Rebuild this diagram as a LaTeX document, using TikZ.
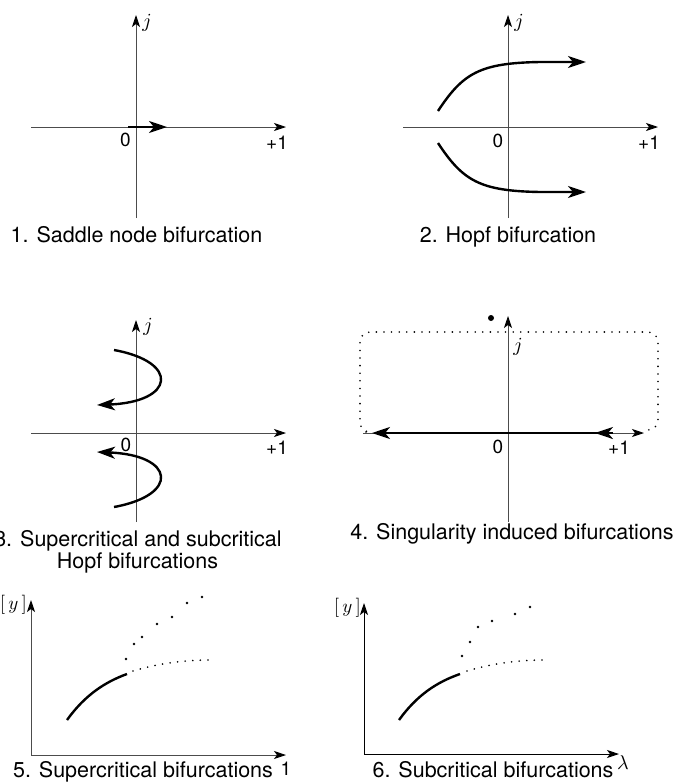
\RequirePackage{fix-cm}
\documentclass[tikz,border=0pt]{standalone}
\usepackage{graphicx}
\usepackage{fontspec}
\setmainfont{TeX Gyre Heros}
\usetikzlibrary{arrows.meta,decorations.markings}
\newcommand{\bigmathlbl}[1]{\scalebox{2.0}{$#1$}}
\begin{document}
\begin{tikzpicture}[x=1pt,y=-1pt,
  axis/.style={draw=black!70, line width=0.9pt, -{Stealth[length=12pt,width=8pt,inset=3pt,black]}},
  axisk/.style={axis, draw=black},
  curve/.style={line width=2.4pt},
  curvearr/.style={curve, -{Stealth[length=18pt,width=12pt,inset=5pt]}},
  lbl/.style={font=\fontsize{19}{22}\selectfont, inner sep=0pt},
  mlbl/.style={inner sep=0pt},
  captext/.style={font=\fontsize{21.5}{25}\selectfont, inner sep=0pt, anchor=base},
  dotline/.style={line width=1.8pt, line cap=round, dash pattern=on 0pt off 7.6pt},
  pt/.style={circle, fill=black, inner sep=0pt, minimum size=2.6pt}
]
\useasboundingbox (0,0) rectangle (673,782);

% ---------- Panel 1 ----------
\draw[axis] (136,218) -- (136,15);
\draw[axis] (31,127) -- (286,127);
\draw[curvearr] (128,127) -- (167,127);
\node[mlbl] (j1) at (147,23) {\bigmathlbl{j}};
\node[lbl] (z1) at (125.5,140) {0};
\node[lbl] (p1) at (277,143) {+1};
\node[captext] (c1) at (136.5,242) {1. Saddle node bifurcation};

% ---------- Panel 2 ----------
\draw[axis] (508,218) -- (508,15);
\draw[axis] (403,127) -- (658,127);
\draw[curvearr] (438,111) .. controls (463,73) and (480,63) .. (540,62) -- (586,62);
\draw[curvearr] (438,143) .. controls (463,181) and (480,191) .. (540,192) -- (586,192);
\node[mlbl] (j2) at (519,23) {\bigmathlbl{j}};
\node[lbl] (z2) at (498,141) {0};
\node[lbl] (p2) at (649,143) {+1};
\node[captext] (c2) at (508,242) {2. Hopf bifurcation};

% ---------- Panel 3 ----------
\draw[axis] (136,522) -- (136,320);
\draw[axis] (31,433) -- (286,433);
\draw[curvearr] (114,350) .. controls (180,362) and (175,402) .. (97,405);
\draw[curvearr] (114,507) .. controls (180,495) and (175,455) .. (97,452);
\node[mlbl] (j3) at (148,327) {\bigmathlbl{j}};
\node[lbl] (z3) at (126,445) {0};
\node[lbl] (p3) at (277,448) {+1};
\node[captext] (c3a) at (138,546) {3. Supercritical and subcritical};
\node[captext] (c3b) at (137.5,568) {Hopf bifurcations};

% ---------- Panel 4 ----------
\draw[dotline, rounded corners=10pt] (366,432) -- (360,432) -- (360,332) -- (658,332) -- (658,430) -- (652,430);
\draw[axis] (508,522) -- (508,316);
\draw[axis] (363,433) -- (644,433);
\draw[curvearr,
  decoration={markings, mark=at position 0.075 with {\arrow{Stealth[length=18pt,width=12pt,inset=5pt]}}},
  postaction=decorate] (613,433) -- (372,433);
\node[circle, fill=black, inner sep=0pt, minimum size=6pt] (dot4) at (491,318) {};
\node[mlbl] (j4) at (518,347) {\bigmathlbl{j}};
\node[lbl] (z4) at (498,447) {0};
\node[lbl] (p4) at (619,448) {+1};
\node[captext] (c4) at (512,539) {4. Singularity induced bifurcations};

% ---------- Panel 5 ----------
\draw[axis] (31,755) -- (31,600);
\draw[axis] (31,755) -- (286,755);
\draw[curve] (67,720) .. controls (85,695) and (105,682) .. (127,674);
\draw[dotline] (133,671) .. controls (160,663) and (185,660) .. (213,660);
\node[pt] (a1) at (126,659) {};
\node[pt] (a2) at (134,644) {};
\node[pt] (a3) at (142,637) {};
\node[pt] (a4) at (157,624) {};
\node[pt] (a5) at (172,617) {};
\node[pt] (a6) at (187,603) {};
\node[pt] (a7) at (202,597) {};
\node[mlbl, anchor=east] (y5) at (27,605) {\scalebox{1.9}{$[\,y\,]$}};
\node[captext] (c5) at (143,777) {5. Supercritical bifurcations};
\node[lbl, anchor=base] (one5) at (286,775) {1};

% ---------- Panel 6 ----------
\draw[axisk] (364,754) -- (364,603);
\draw[axisk] (364,754) -- (619,754);
\draw[curve] (399,720) .. controls (417,695) and (437,682) .. (460,674);
\draw[dotline] (467,671) .. controls (494,663) and (519,660) .. (547,660);
\node[pt] (b1) at (462,656) {};
\node[pt] (b2) at (470,642) {};
\node[pt] (b3) at (478,627) {};
\node[pt] (b4) at (492,621) {};
\node[pt] (b5) at (515,614) {};
\node[pt] (b6) at (530,607) {};
\node[mlbl, anchor=east] (y6) at (361,608) {\scalebox{1.9}{$[\,y\,]$}};
\node[mlbl] (lam6) at (623,763) {\bigmathlbl{\lambda}};
\node[captext] (c6) at (493,777) {6. Subcritical bifurcations};
\end{tikzpicture}
\end{document}
